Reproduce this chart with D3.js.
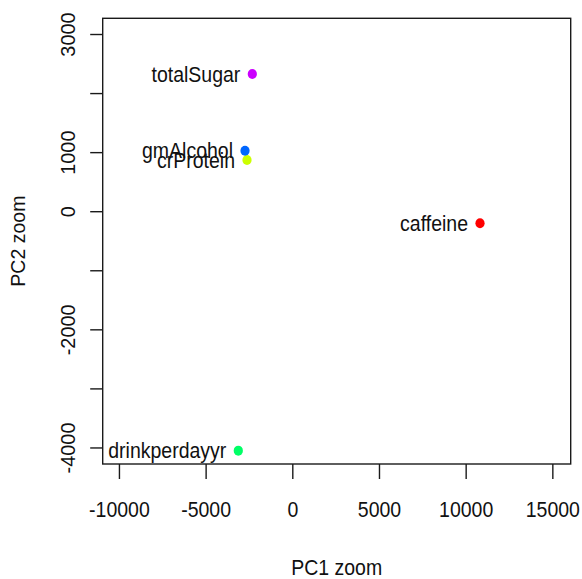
<!DOCTYPE html>
<html>
<head>
<meta charset="utf-8">
<script src="https://cdn.jsdelivr.net/npm/d3@7"></script>
<style>
  html, body { margin: 0; padding: 0; background: #fff; }
  svg { display: block; }
  text { font-family: "Liberation Sans", Arial, sans-serif; fill: #111; }
</style>
</head>
<body>
<svg id="chart" width="582" height="579"></svg>
<script>
// ---- data ----
const variables = ["caffeine", "crProtein", "drinkperdayyr", "gmAlcohol", "totalSugar"];
const pc1 = [10828, -2613, -3115, -2728, -2307];
const pc2 = [-205, 867, -4054, 1024, 2323];
const colors = ["#FF0000", "#CCFF00", "#00FF66", "#0066FF", "#CC00FF"];
const xLimits = [-10937, 16059];
const yLimits = [-4280, 3266];
const xTicks = [-10000, -5000, 0, 5000, 10000, 15000];
const yTicks = [-4000, -3000, -2000, -1000, 0, 1000, 2000, 3000];
const yTickLabels = [-4000, -2000, 0, 1000, 3000];
const xTitle = "PC1 zoom";
const yTitle = "PC2 zoom";

// ---- layout ----
const box = { left: 102.7, right: 570.7, top: 18.3, bottom: 464 };
const fontSize = 19.5;
const stretch = 1.12;
const ink = "#1a1a1a";
const FONT = '"Liberation Sans", Arial, sans-serif';

const svg = d3.select("#chart");
const x = d3.scaleLinear().domain(xLimits).range([box.left, box.right]);
const y = d3.scaleLinear().domain(yLimits).range([box.bottom, box.top]);

// x axis
const gx = svg.append("g").attr("transform", `translate(0,${box.bottom})`)
  .call(d3.axisBottom(x).tickValues(xTicks).tickSize(15).tickSizeOuter(0)
        .tickFormat(d => d));
gx.select(".domain").remove();
gx.selectAll(".tick line").attr("stroke", ink).attr("stroke-width", 1.4);
gx.selectAll(".tick text").attr("font-size", fontSize)
  .attr("font-family", FONT).attr("fill", "#111")
  .attr("y", null).attr("dy", null)
  .attr("transform", `translate(0,${516.5 - box.bottom}) scale(1,${stretch})`);

// y axis
const gy = svg.append("g").attr("transform", `translate(${box.left},0)`)
  .call(d3.axisLeft(y).tickValues(yTicks).tickSize(12.5).tickSizeOuter(0)
        .tickFormat(d => yTickLabels.includes(d) ? d : ""));
gy.select(".domain").remove();
gy.selectAll(".tick line").attr("stroke", ink).attr("stroke-width", 1.4);
gy.selectAll(".tick text")
  .attr("font-size", fontSize)
  .attr("font-family", FONT).attr("fill", "#111")
  .attr("x", null).attr("dy", null)
  .attr("text-anchor", "middle")
  .attr("transform", `translate(${74.5 - box.left},0) rotate(-90) scale(1.02,1)`);

// box
svg.append("rect")
  .attr("x", box.left).attr("y", box.top)
  .attr("width", box.right - box.left).attr("height", box.bottom - box.top)
  .attr("fill", "none").attr("stroke", ink).attr("stroke-width", 1.4);

// points
const pts = variables.map((v, i) => ({ name: v, px: pc1[i], py: pc2[i], color: colors[i] }));
svg.append("g").selectAll("ellipse").data(pts).join("ellipse")
  .attr("cx", d => x(d.px)).attr("cy", d => y(d.py))
  .attr("rx", 4.6).attr("ry", 5)
  .attr("fill", d => d.color);

// labels
svg.append("g").selectAll("text").data(pts).join("text")
  .attr("transform", d => `translate(${x(d.px) - 12},${y(d.py)}) scale(1,${stretch})`)
  .attr("dy", "0.35em")
  .attr("text-anchor", "end")
  .attr("font-size", fontSize)
  .text(d => d.name);

// titles
svg.append("text")
  .attr("transform", `translate(${(box.left + box.right) / 2},575) scale(1,${stretch})`)
  .attr("text-anchor", "middle").attr("font-size", fontSize)
  .text(xTitle);
svg.append("text")
  .attr("transform", `translate(25,${(box.top + box.bottom) / 2}) rotate(-90)`)
  .attr("text-anchor", "middle").attr("font-size", fontSize)
  .text(yTitle);
</script>
</body>
</html>
